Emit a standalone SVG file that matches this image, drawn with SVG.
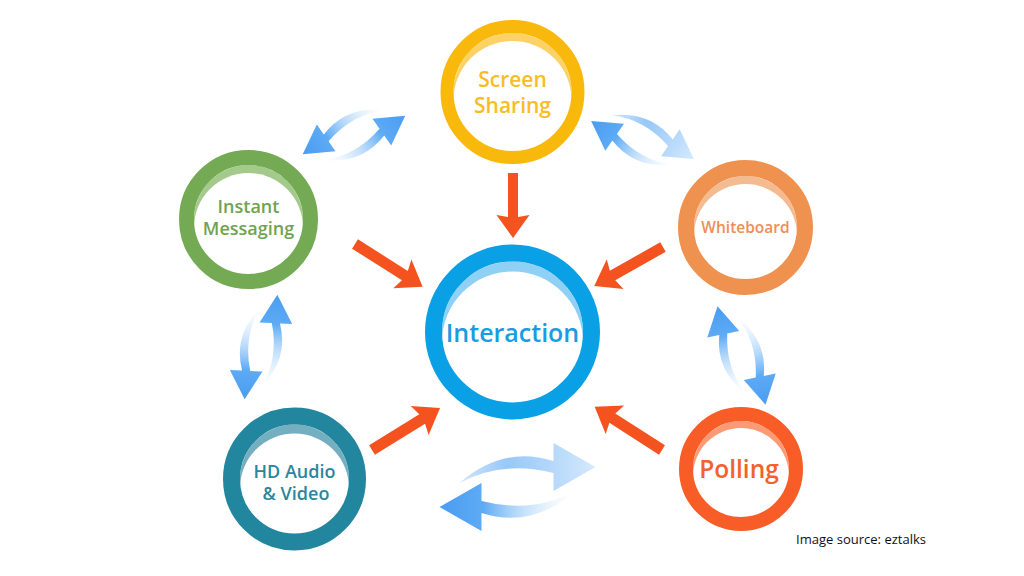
<svg xmlns="http://www.w3.org/2000/svg" width="1024" height="576" viewBox="0 0 1024 576">
<style>
.lbl{font-family:"Open Sans","Noto Sans","DejaVu Sans",sans-serif;font-weight:600;text-anchor:middle}
.oa{fill:#F4531F}
.src{font-family:"Open Sans","Liberation Sans",sans-serif;font-weight:500;font-size:12.5px;fill:#111}
</style>
<defs>
<linearGradient id="bg" gradientUnits="userSpaceOnUse" x1="-58" y1="0" x2="70" y2="0">
<stop offset="0" stop-color="#d6eafd" stop-opacity="0"/>
<stop offset="0.45" stop-color="#9ccbf8" stop-opacity="0.7"/>
<stop offset="0.72" stop-color="#5eabf5" stop-opacity="1"/>
<stop offset="1" stop-color="#4d9ff2"/>
</linearGradient>
<linearGradient id="ga" gradientUnits="userSpaceOnUse" x1="-58" y1="0" x2="78" y2="0">
<stop offset="0" stop-color="#7db9f6" stop-opacity="0.35"/>
<stop offset="0.35" stop-color="#86bff7" stop-opacity="0.85"/>
<stop offset="1" stop-color="#d6eafd"/>
</linearGradient>
<path id="shape" d="M -58,-4 Q -15,-42 36,-26 L 36,-44 L 78,-20 L 36,4 L 36,-14 Q -15,-27 -58,-4 Z"/>
<use id="ba" href="#shape" fill="url(#bg)"/>
<use id="bl" href="#shape" fill="url(#ga)"/>
<g id="pair"><use href="#ba"/><use href="#ba" transform="rotate(180)"/></g>
<g id="pair2"><use href="#bl"/><use href="#ba" transform="rotate(180)"/></g>
</defs>
<rect width="1024" height="576" fill="#ffffff"/>

<g id="connectors">
<use href="#pair2" transform="translate(517.5,487)"/>
<use href="#pair" transform="translate(354,135) rotate(-35) scale(0.68,-0.68)"/>
<use href="#pair2" transform="translate(642.5,140) rotate(34.7) scale(0.68)"/>
<use href="#pair" transform="translate(261,347) rotate(-87) scale(0.68,-0.68)"/>
<use href="#pair" transform="translate(741.5,355.5) rotate(-101.6) scale(0.68)"/>
<polygon class="oa" transform="translate(513,173) rotate(90)" points="0,-5 44,-5 42,-16.5 65,0 42,16.5 44,5 0,5"/>
<polygon class="oa" transform="translate(355,244) rotate(32.3)" points="0,-5.5 59,-5.5 56,-17 80,0 56,17 59,5.5 0,5.5"/>
<polygon class="oa" transform="translate(663,247) rotate(150.5)" points="0,-5.5 58,-5.5 55,-17 79,0 55,17 58,5.5 0,5.5"/>
<polygon class="oa" transform="translate(662,450) rotate(-147.3)" points="0,-5.5 59,-5.5 56,-17 80,0 56,17 59,5.5 0,5.5"/>
<polygon class="oa" transform="translate(372,450) rotate(-31.7)" points="0,-5.5 59,-5.5 56,-17 80,0 56,17 59,5.5 0,5.5"/>
</g>

<g id="node-screen-sharing">
<circle cx="512.5" cy="92" r="59" fill="#FCD264"/>
<circle cx="512.5" cy="100" r="59" fill="#ffffff"/>
<circle cx="512.5" cy="92" r="65.5" fill="none" stroke="#F9B90C" stroke-width="13"/>
<text class="lbl" font-size="21" fill="#F8BD24"><tspan x="512.5" y="87">Screen</tspan><tspan x="512.5" y="113">Sharing</tspan></text>
</g>

<g id="node-interaction">
<circle cx="512.5" cy="332" r="70.5" fill="#8ED1F4"/>
<circle cx="512.5" cy="342" r="70.5" fill="#ffffff"/>
<circle cx="512.5" cy="332" r="79" fill="none" stroke="#0AA0E6" stroke-width="17"/>
<text class="lbl" x="512.5" y="342" font-size="25" fill="#1B9BE0">Interaction</text>
</g>

<g id="node-instant-messaging">
<circle cx="248.5" cy="219.5" r="54.5" fill="#A3C98B"/>
<circle cx="248.5" cy="227.5" r="54.5" fill="#ffffff"/>
<circle cx="248.5" cy="219.5" r="62" fill="none" stroke="#73AA53" stroke-width="15"/>
<text class="lbl" font-size="18" fill="#6EA450"><tspan x="248.5" y="213">Instant</tspan><tspan x="248.5" y="235">Messaging</tspan></text>
</g>

<g id="node-whiteboard">
<circle cx="745.5" cy="227.5" r="51.5" fill="#F5BB90"/>
<circle cx="745.5" cy="235.5" r="51.5" fill="#ffffff"/>
<circle cx="745.5" cy="227.5" r="59.5" fill="none" stroke="#EF914F" stroke-width="16"/>
<text class="lbl" x="745.5" y="233" font-size="15.5" fill="#EE8E57">Whiteboard</text>
</g>

<g id="node-polling">
<circle cx="741" cy="469" r="48" fill="#FB9A74"/>
<circle cx="741" cy="476" r="48" fill="#ffffff"/>
<circle cx="741" cy="469" r="55" fill="none" stroke="#F85C27" stroke-width="14"/>
<text class="lbl" x="739" y="478" font-size="24.5" fill="#F2612E">Polling</text>
</g>

<g id="node-hd-audio-video">
<circle cx="294.5" cy="479" r="54.5" fill="#74AEC1"/>
<circle cx="294.5" cy="488" r="54.5" fill="#ffffff"/>
<circle cx="294.5" cy="479" r="63" fill="none" stroke="#22869F" stroke-width="17"/>
<text class="lbl" font-size="18" fill="#2A86A0"><tspan x="294.5" y="478">HD Audio</tspan><tspan x="296" y="500">&amp; Video</tspan></text>
</g>

<text class="src" x="796" y="544" textLength="130" lengthAdjust="spacingAndGlyphs">Image source: eztalks</text>
</svg>
